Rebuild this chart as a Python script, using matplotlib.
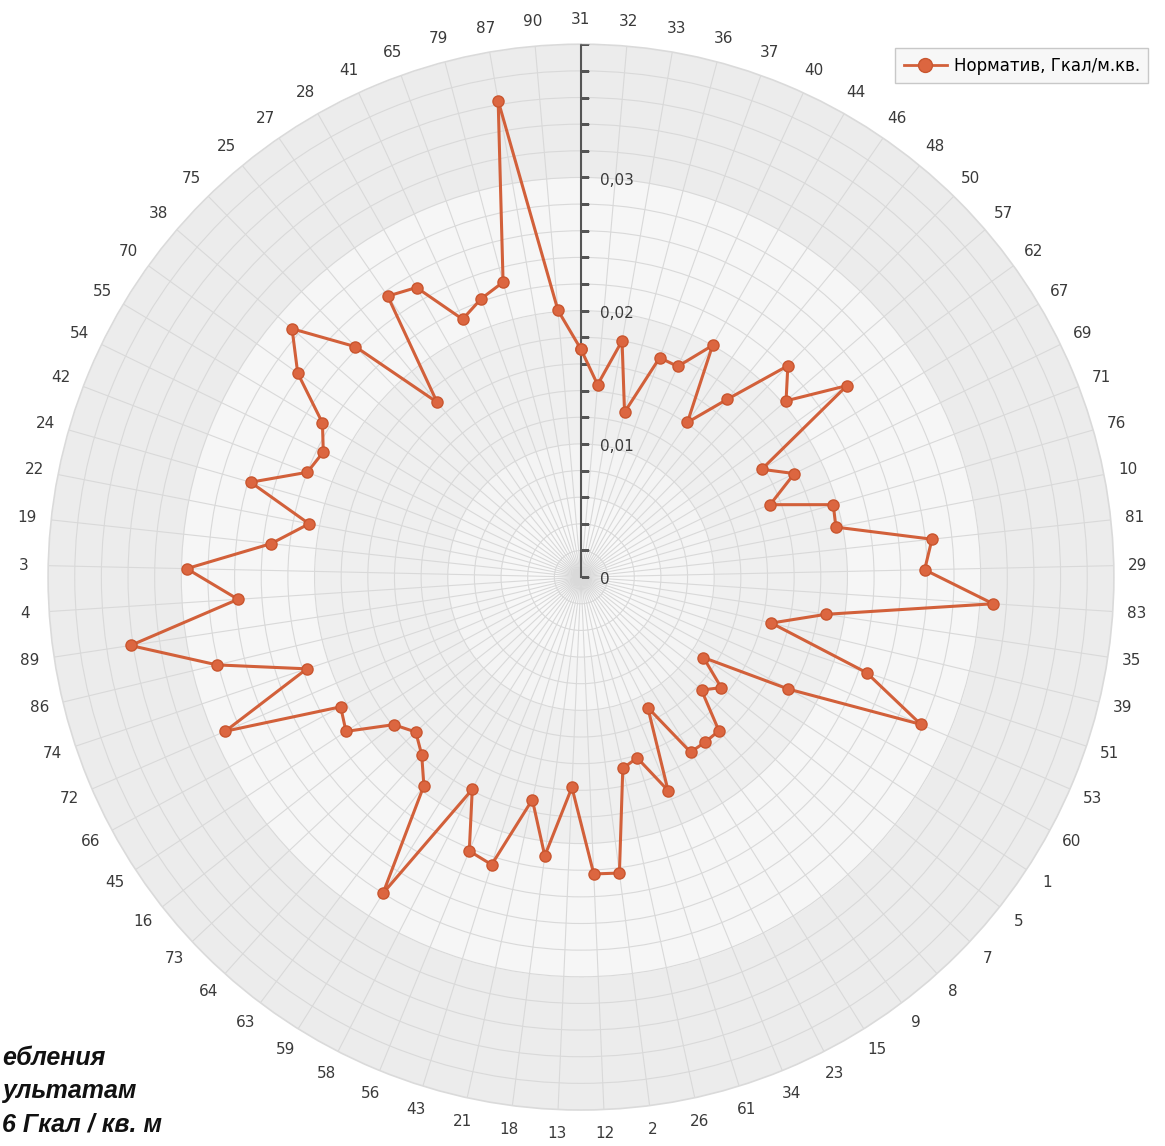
import matplotlib
matplotlib.use("Agg")
import numpy as np
import matplotlib.pyplot as plt
from matplotlib.lines import Line2D

# categories, clockwise from the top
labels = ['31', '32', '33', '36', '37', '40', '44', '46', '48', '50',
          '57', '62', '67', '69', '71', '76', '10', '81', '29', '83',
          '35', '39', '51', '53', '60', '1', '5', '7', '8', '9',
          '15', '23', '34', '61', '26', '2', '12', '13', '18', '21',
          '43', '56', '58', '59', '63', '64', '73', '16', '45', '66',
          '72', '74', '86', '89', '4', '3', '19', '22', '24', '42',
          '54', '55', '70', '38', '75', '25', '27', '28', '41', '65',
          '79', '87', '90']

# norm, Gcal per sq. m
values = [0.0171, 0.0145, 0.0180, 0.0128, 0.0175, 0.0174, 0.0200, 0.0141, 0.0173, 0.0222,
          0.0203, 0.0246, 0.0158, 0.0178, 0.0152, 0.0197, 0.0195, 0.0265, 0.0258, 0.0310,
          0.0186, 0.0147, 0.0226, 0.0278, 0.0177, 0.0110, 0.0134, 0.0124, 0.0155, 0.0155,
          0.0155, 0.0110, 0.0173, 0.0142, 0.0147, 0.0224, 0.0223, 0.0158, 0.0211, 0.0171,
          0.0226, 0.0222, 0.0179, 0.0280, 0.0196, 0.0179, 0.0170, 0.0179, 0.0211, 0.0205,
          0.0291, 0.0217, 0.0281, 0.0342, 0.0258, 0.0296, 0.0234, 0.0208, 0.0258, 0.0220,
          0.0215, 0.0226, 0.0262, 0.0286, 0.0242, 0.0170, 0.0256, 0.0250, 0.0213, 0.0222,
          0.0229, 0.0363, 0.0201]

r_labels = ['0', '0,01', '0,02', '0,03']
r_major = [0.0, 0.01, 0.02, 0.03]
r_max = 0.04
series_name = 'Норматив, Гкал/м.кв.'

line_col = '#d2603a'

fig = plt.figure(figsize=(11.65, 11.46), dpi=100)
ax = fig.add_axes([0.0412, 0.0314, 0.915, 0.930], projection='polar')
ax.set_theta_zero_location('N')
ax.set_theta_direction(-1)
ax.set_ylim(0, r_max)
ax.set_axisbelow(True)

# shaded bands
th = np.linspace(0, 2 * np.pi, 500)
bands = [(0.0, 0.01, '#f4f4f4'), (0.01, 0.02, '#efefef'),
         (0.02, 0.03, '#f6f6f6'), (0.03, 0.04, '#ececec')]
for r0, r1, c in bands:
    ax.fill_between(th, r0, r1, color=c, lw=0, zorder=0.2)
# lighter centre
for k, c in enumerate(['#f7f7f7', '#f9f9f9', '#fbfbfb']):
    ax.fill_between(th, 0, 0.006 - 0.0018 * k, color=c, lw=0, zorder=0.21)

n = len(labels)
angles = np.arange(n) * 2 * np.pi / n
ax.set_xticks(angles)
ax.set_xticklabels(labels, fontsize=11, color='#3a3a3a', family='DejaVu Sans')
ax.tick_params(axis='x', pad=7)
ax.set_yticks(np.arange(0.002, r_max, 0.002))
ax.set_yticklabels([])
ax.grid(color='#d9d9d9', lw=0.8)
ax.spines['polar'].set_color('#dadada')
ax.spines['polar'].set_linewidth(1.2)

# radial axis
ax.plot([0, 0], [0, r_max], color='#555555', lw=1.5, zorder=3)
minor = np.arange(0, r_max + 1e-9, 0.002)
ax.plot(np.zeros(len(minor)), minor, ls='none', marker=1, markersize=6,
        markeredgewidth=1.0, color='#555555', zorder=3)
for r, t in zip(r_major, r_labels):
    ax.annotate(t, xy=(0, r), xytext=(14, -2), textcoords='offset points',
                ha='left', va='center', fontsize=11, color='#3a3a3a', zorder=4)

vals = values + values[:1]
angs = list(angles) + [angles[0]]
ax.plot(angs, vals, color=line_col, lw=2.2, marker='o', markersize=8,
        markerfacecolor='#dc6640', markeredgecolor='#c9562f', zorder=5)

handle = Line2D([], [], color=line_col, lw=2, marker='o', markersize=10,
                markerfacecolor='#dc6640', markeredgecolor='#c9562f')
fig.legend([handle], [series_name], loc='upper left',
           bbox_to_anchor=(887 / 1165, 1 - 40 / 1146), fontsize=12,
           frameon=True, fancybox=False, edgecolor='#c8c8c8', facecolor='#f7f7f7',
           framealpha=1, handlelength=2.6, borderpad=0.5, handletextpad=0.4)

# caption fragment from the page
cap = {'fontsize': 18, 'fontweight': 'bold', 'style': 'italic',
       'family': 'Liberation Sans', 'color': '#111111', 'va': 'center'}
fig.text(0.002, 1 - 1058 / 1146, 'ебления', **cap)
fig.text(0.002, 1 - 1091 / 1146, 'ультатам', **cap)
fig.text(0.002, 1 - 1124 / 1146, '6 Гкал / кв. м', **cap)

fig.savefig('out.png', dpi=100)
